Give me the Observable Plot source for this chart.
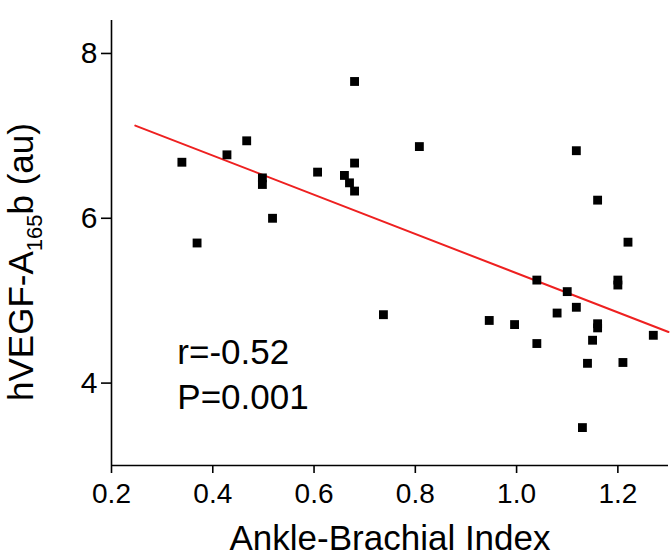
<!DOCTYPE html>
<html><head><meta charset="utf-8">
<script src="https://cdn.jsdelivr.net/npm/d3@7"></script>
<script src="https://cdn.jsdelivr.net/npm/@observablehq/plot@0.6"></script>
<style>body{margin:0;background:#fff} svg{display:block}</style>
</head><body><div id="chart"></div>
<script>
const abi  = [0.339,0.369,0.428,0.467,0.498,0.498,0.518,0.607,0.660,0.670,0.680,0.680,0.680,0.737,0.808,0.946,0.996,1.040,1.040,1.080,1.100,1.118,1.118,1.130,1.140,1.150,1.160,1.160,1.160,1.200,1.200,1.210,1.220,1.270];
const vegf = [6.68,5.70,6.77,6.94,6.49,6.41,6.00,6.56,6.52,6.43,6.33,6.67,7.66,4.83,6.87,4.76,4.71,5.25,4.48,4.85,5.11,4.92,6.82,3.46,4.24,4.52,4.72,4.67,6.22,5.25,5.19,4.25,5.71,4.58];
const fitX = [0.247, 1.30];
const fitY = [7.125, 4.62];
const xTicks = [0.2, 0.4, 0.6, 0.8, 1.0, 1.2];
const yTicks = [4, 6, 8];
const annotation = ["r=-0.52", "P=0.001"];
const xTitle = "Ankle-Brachial Index";
const yTitleParts = ["hVEGF-A", "165", "b (au)"];

const points = abi.map((x, i) => ({x, y: vegf[i]}));
const fit = fitX.map((x, i) => ({x, y: fitY[i]}));
const font = "'Liberation Sans', Arial, Helvetica, sans-serif";

const chart = Plot.plot({
  width: 670, height: 559,
  marginLeft: 111, marginRight: 2, marginTop: 20, marginBottom: 94,
  style: {fontFamily: font, background: "#fff", color: "#000"},
  x: {domain: [0.2, 1.3]},
  y: {domain: [3, 8.4]},
  marks: [
    Plot.axisX({ticks: xTicks, tickFormat: d3.format(".1f"), tickSize: 8, tickPadding: 10, fontSize: 28, strokeWidth: 1.6, label: null}),
    Plot.axisY({ticks: yTicks, tickFormat: d3.format("d"), tickSize: 10, tickPadding: 4, fontSize: 30, strokeWidth: 1.6, label: null}),
    Plot.ruleX([0.2], {strokeWidth: 1.6}),
    Plot.ruleY([3], {strokeWidth: 1.6}),
    Plot.line(fit, {x: "x", y: "y", stroke: "#ee2020", strokeWidth: 2}),
    Plot.dot(points, {x: "x", y: "y", symbol: "square", r: 5, fill: "#000"}),
    Plot.text([annotation.join("\n")], {x: 0.33, y: 4.61, textAnchor: "start", lineAnchor: "top", lineHeight: 1.266, fontSize: 35})
  ]
});

const svg = d3.select(chart);
svg.append("text")
  .attr("x", 390).attr("y", 550)
  .attr("text-anchor", "middle").attr("font-size", 35).attr("font-family", font).attr("fill", "#000")
  .text(xTitle);
const yt = svg.append("text")
  .attr("transform", "translate(33,262) rotate(-90)")
  .attr("text-anchor", "middle").attr("font-size", 35).attr("font-family", font).attr("fill", "#000");
yt.append("tspan").text(yTitleParts[0]);
yt.append("tspan").attr("font-size", 22).attr("dy", 9).text(yTitleParts[1]);
yt.append("tspan").attr("dy", -9).text(yTitleParts[2]);

document.getElementById("chart").append(chart);
</script>
</body></html>
